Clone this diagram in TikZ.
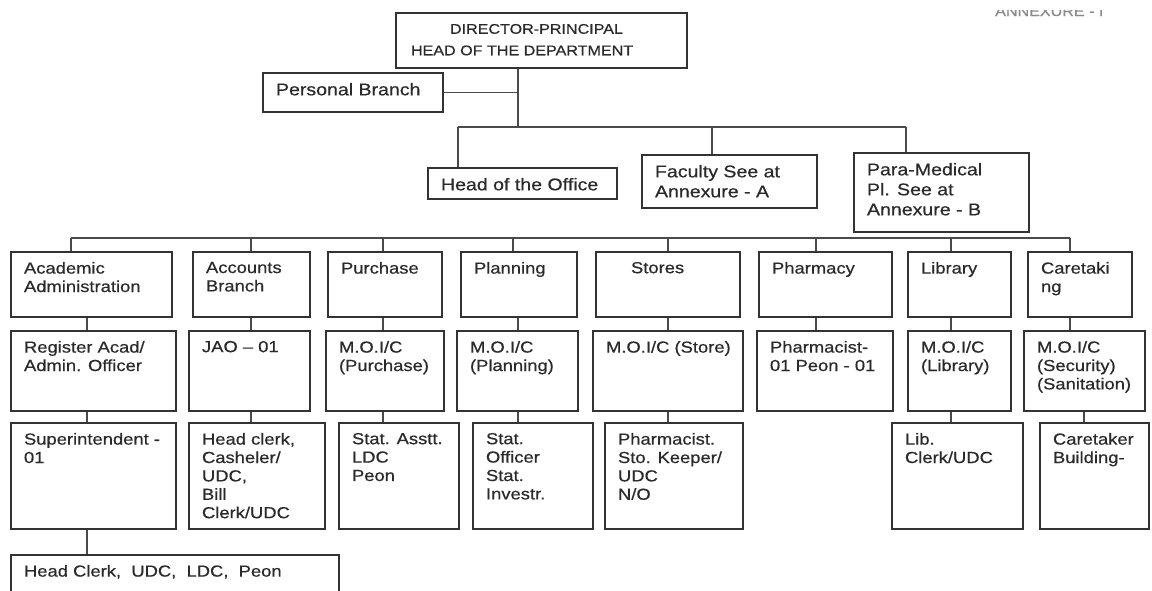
\documentclass[tikz,border=0pt]{standalone}
\usepackage{fontspec}
\setmainfont[FakeStretch=1.15,FakeBold=0.5]{Liberation Sans}
\definecolor{boxline}{HTML}{333333}
\definecolor{linkline}{HTML}{4A4A4A}
\definecolor{ink}{HTML}{2A2A2A}
\newcommand\lowfont{\fontsize{16}{18.4}\selectfont}
\newcommand\upfont{\fontsize{17}{20}\selectfont}
\newcommand\headfont{\fontsize{14}{21.5}\selectfont}
% \orgbox[style]{name}{x1}{y1}{x2}{y2}{text}: a box with top-left aligned text
\newcommand\orgbox[7][]{%
  \node[orgbox,#1] (#2) at ({(#3+#5)/2},{(#4+#6)/2})
    {\parbox[c][\dimexpr #6pt-#4pt-20pt\relax][t]{\dimexpr #5pt-#3pt-26pt\relax}{\raggedright #7}};}
\tikzset{
  orgbox/.style={draw=boxline, line width=2pt, inner xsep=13pt, inner ysep=10pt,
    text=ink, font=\lowfont, fill=white},
  upper/.style={font=\upfont},
  head/.style={font=\headfont, inner xsep=15pt, inner ysep=11pt},
  link/.style={draw=linkline, line width=1.7pt},
}
\begin{document}
\begin{tikzpicture}[x=1pt,y=-1pt]
\useasboundingbox (0,0) rectangle (1152,590);

% cut-off heading at the top right
\begin{scope}
  \clip (985,10) rectangle (1115,17);
  \node[anchor=base west, font=\headfont, text=ink!55, inner sep=0pt] (annex) at (995,16) {ANNEXURE - I};
\end{scope}

% top level
\orgbox[head]{dir}{398}{14}{685}{67}{\hspace*{39pt}DIRECTOR-PRINCIPAL\\HEAD OF THE DEPARTMENT}
\orgbox[upper]{pb}{263}{73}{443}{112}{Personal Branch}
\orgbox[upper]{hoff}{428}{168}{617}{199}{Head of the Office}
\orgbox[upper]{fac}{642}{155}{817}{208}{Faculty See at\\Annexure - A}
\orgbox[upper]{para}{854}{153}{1029}{232}{Para-Medical\\Pl. See at\\Annexure - B}

% sections
\orgbox{acad}{11}{252}{172}{317}{Academic\\Administration}
\orgbox{acct}{193}{252}{310}{317}{Accounts\\Branch}
\orgbox{purch}{328}{252}{442}{317}{Purchase}
\orgbox{plan}{461}{252}{577}{317}{Planning}
\orgbox{stor}{596}{252}{740}{317}{\hspace*{22pt}Stores}
\orgbox{phar}{759}{252}{892}{317}{Pharmacy}
\orgbox{lib}{908}{252}{1011}{317}{Library}
\orgbox{care}{1028}{252}{1132}{317}{Caretaki\\ng}

% officers in charge
\orgbox{reg}{11}{331}{176}{411}{Register Acad/\\Admin. Officer}
\orgbox{jao}{189}{331}{310}{411}{JAO -- 01}
\orgbox{mpur}{326}{331}{444}{411}{M.O.I/C\\(Purchase)}
\orgbox{mplan}{457}{331}{578}{411}{M.O.I/C\\(Planning)}
\orgbox{mstor}{593}{331}{743}{411}{\centering\mbox{M.O.I/C (Store)}}
\orgbox{pharm}{757}{331}{893}{411}{Pharmacist-\\01 Peon - 01}
\orgbox{mlib}{908}{331}{1011}{411}{M.O.I/C\\(Library)}
\orgbox{mcare}{1024}{331}{1145}{411}{M.O.I/C\\(Security)\\(Sanitation)}

% staff
\orgbox{supt}{11}{423}{176}{529}{Superintendent -\\01}
\orgbox{hclk}{189}{423}{325}{529}{Head clerk,\\Casheler/\\UDC,\\Bill\\Clerk/UDC}
\orgbox{stat}{339}{423}{459}{529}{Stat. Asstt.\\LDC\\Peon}
\orgbox{sofc}{473}{423}{593}{529}{Stat.\\Officer\\Stat.\\Investr.}
\orgbox{pst}{605}{423}{743}{529}{Pharmacist.\\Sto. Keeper/\\UDC\\N/O}
\orgbox{lclk}{892}{423}{1023}{529}{Lib.\\Clerk/UDC}
\orgbox{ctk}{1040}{423}{1149}{529}{Caretaker\\Building-}
\orgbox{hcl}{11}{555}{339}{605}{Head Clerk,\ \ UDC,\ \ LDC,\ \ Peon}

% links from the director
\coordinate (spine) at (518,127);
\coordinate (barL) at (458,127);
\coordinate (barR) at (906,127);
\draw[link] (dir.south -| spine) -- (spine);
\draw[link] (pb.east) -- (pb.east -| spine);
\draw[link] (barL) -- (barR);
\draw[link] (barL) -- (hoff.north -| barL);
\draw[link] (712,127) -- (712,0 |- fac.north);
\draw[link] (barR) -- (para.north -| barR);

% bar over the sections
\coordinate (secL) at (71,238);
\coordinate (secR) at (1070,238);
\draw[link] (secL) -- (secR);
\foreach \n/\x in {acad/71, acct/251, purch/383, plan/513, stor/668, phar/816, lib/951, care/1070}
  \draw[link] (\x,238) -- (\x,0 |- \n.north);

% sections to officers
\foreach \a/\b/\x in {acad/reg/87, acct/jao/251, purch/mpur/383, plan/mplan/518,
    stor/mstor/668, phar/pharm/816, lib/mlib/951, care/mcare/1070}
  \draw[link] (\x,0 |- \a.south) -- (\x,0 |- \b.north);

% officers to staff
\foreach \a/\b/\x in {reg/supt/87, jao/hclk/251, mpur/stat/383, mplan/sofc/518,
    mstor/pst/668, mlib/lclk/951, mcare/ctk/1084}
  \draw[link] (\x,0 |- \a.south) -- (\x,0 |- \b.north);
\draw[link] (87,0 |- supt.south) -- (87,0 |- hcl.north);
\end{tikzpicture}
\end{document}
